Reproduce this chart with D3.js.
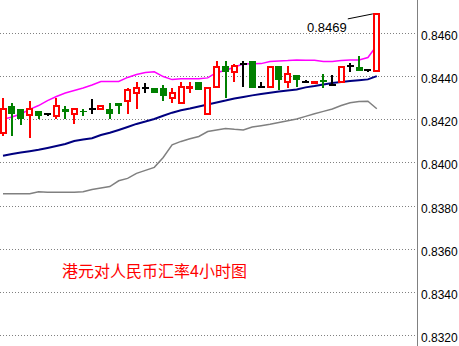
<!DOCTYPE html>
<html>
<head>
<meta charset="utf-8">
<script src="https://cdnjs.cloudflare.com/ajax/libs/d3/7.8.5/d3.min.js"></script>
<style>
  body { margin: 0; background: #fff; }
  svg { display: block; }
</style>
</head>
<body>
<div id="chart"></div>
<script>
// 4h candles, oldest first
const opens  = [0.84134,0.84259,0.84249,0.84217,0.84240,0.84222,0.84213,0.84249,0.84226,0.84240,
                0.84249,0.84245,0.84249,0.84273,0.84282,0.84323,0.84342,0.84342,0.84342,0.84296,
                0.84277,0.84342,0.84370,0.84226,0.84351,0.84448,0.84420,0.84457,0.84471,0.84347,
                0.84347,0.84448,0.84374,0.84402,0.84370,0.84365,0.84379,0.84360,0.84374,0.84444,
                0.84439,0.84429,0.84425];
const highs  = [0.84300,0.84273,0.84249,0.84282,0.84240,0.84222,0.84300,0.84259,0.84249,0.84249,
                0.84291,0.84259,0.84273,0.84273,0.84342,0.84370,0.84365,0.84342,0.84360,0.84342,
                0.84370,0.84370,0.84370,0.84342,0.84471,0.84471,0.84457,0.84471,0.84471,0.84370,
                0.84439,0.84448,0.84448,0.84402,0.84379,0.84374,0.84411,0.84402,0.84448,0.84462,
                0.84490,0.84429,0.84687];
const lows   = [0.84120,0.84120,0.84171,0.84111,0.84203,0.84213,0.84203,0.84203,0.84176,0.84213,
                0.84222,0.84245,0.84203,0.84222,0.84222,0.84249,0.84319,0.84319,0.84286,0.84273,
                0.84277,0.84319,0.84333,0.84222,0.84342,0.84296,0.84370,0.84351,0.84342,0.84342,
                0.84347,0.84333,0.84342,0.84351,0.84370,0.84365,0.84342,0.84360,0.84374,0.84420,
                0.84425,0.84420,0.84425];
const closes = [0.84249,0.84222,0.84203,0.84249,0.84213,0.84222,0.84259,0.84231,0.84249,0.84231,
                0.84249,0.84259,0.84222,0.84259,0.84333,0.84342,0.84342,0.84319,0.84305,0.84319,
                0.84351,0.84351,0.84333,0.84342,0.84439,0.84416,0.84448,0.84457,0.84342,0.84347,
                0.84439,0.84379,0.84411,0.84383,0.84370,0.84374,0.84370,0.84360,0.84439,0.84444,
                0.84425,0.84429,0.84687];
// indicator lines
const upperLine = [0.84199,0.84210,0.84224,0.84245,0.84263,0.84286,0.84305,0.84321,0.84333,0.84344,
                   0.84358,0.84374,0.84374,0.84374,0.84393,0.84407,0.84416,0.84419,0.84397,0.84383,
                   0.84387,0.84387,0.84387,0.84391,0.84416,0.84425,0.84441,0.84455,0.84456,0.84457,
                   0.84467,0.84469,0.84471,0.84474,0.84473,0.84473,0.84467,0.84467,0.84471,0.84474,
                   0.84474,0.84485,0.84541];
const maLine    = [0.84031,0.84039,0.84046,0.84052,0.84058,0.84067,0.84076,0.84085,0.84099,0.84106,
                   0.84112,0.84127,0.84137,0.84150,0.84164,0.84178,0.84189,0.84201,0.84216,0.84230,
                   0.84241,0.84249,0.84259,0.84268,0.84277,0.84286,0.84296,0.84303,0.84310,0.84316,
                   0.84322,0.84328,0.84333,0.84337,0.84347,0.84353,0.84360,0.84367,0.84372,0.84376,
                   0.84380,0.84384,0.84399];
const slowLine  = [0.83855,0.83855,0.83855,0.83855,0.83864,0.83862,0.83862,0.83862,0.83862,0.83864,
                   0.83875,0.83882,0.83888,0.83915,0.83926,0.83949,0.83963,0.83977,0.84023,0.84081,
                   0.84097,0.84109,0.84120,0.84143,0.84150,0.84157,0.84153,0.84150,0.84164,0.84170,
                   0.84176,0.84185,0.84193,0.84201,0.84213,0.84225,0.84236,0.84247,0.84263,0.84276,
                   0.84282,0.84283,0.84248];
const yTicks = [0.8320,0.8340,0.8360,0.8380,0.8400,0.8420,0.8440,0.8460];
const title = "港元对人民币汇率4小时图";

const width = 459, height = 346;
const axisX = 417;

const x = d3.scaleLinear().domain([0, opens.length - 1]).range([3, 376.8]);
const y = d3.scaleLinear().domain([0.8320, 0.8460]).range([335.3, 32.7]);

const svg = d3.select("#chart").append("svg")
    .attr("width", width)
    .attr("height", height);

// dotted grid
svg.append("g").selectAll("line")
    .data(yTicks)
  .enter().append("line")
    .attr("x1", 0).attr("x2", axisX)
    .attr("y1", d => Math.round(y(d)) + 0.5)
    .attr("y2", d => Math.round(y(d)) + 0.5)
    .attr("stroke", "#808080")
    .attr("stroke-dasharray", "1,2");

// right axis
svg.append("line")
    .attr("x1", axisX + 0.5).attr("x2", axisX + 0.5)
    .attr("y1", 0).attr("y2", height)
    .attr("stroke", "#808080");

svg.append("g").selectAll("text")
    .data(yTicks)
  .enter().append("text")
    .attr("x", axisX + 4)
    .attr("y", d => Math.round(y(d)) + 7)
    .style("font-family", "Liberation Sans, Arial, sans-serif")
    .style("font-size", "12px")
    .attr("fill", "#000")
    .text(d => d.toFixed(4));

// lines
const line = d3.line().x((d, i) => x(i)).y(d => y(d));
[[slowLine, "#808080", 1.5], [maLine, "#000080", 2], [upperLine, "#ff00ff", 1.5]].forEach(([data, color, w]) => {
  svg.append("path")
      .attr("d", line(data))
      .attr("fill", "none")
      .attr("stroke", color)
      .attr("stroke-width", w);
});

// candles
const candles = opens.map((o, i) => ({i, o, h: highs[i], l: lows[i], c: closes[i]}));
const color = d => d.c > d.o ? "#ff0000" : d.c < d.o ? "#008000" : "#000000";

const g = svg.append("g").attr("shape-rendering", "crispEdges");
g.selectAll("line.wick")
    .data(candles)
  .enter().append("line")
    .attr("class", "wick")
    .attr("x1", d => x(d.i)).attr("x2", d => x(d.i))
    .attr("y1", d => y(d.h)).attr("y2", d => y(d.l))
    .attr("stroke", color)
    .attr("stroke-width", 2);

g.selectAll("rect.body")
    .data(candles.filter(d => d.c !== d.o))
  .enter().append("rect")
    .attr("class", "body")
    .attr("x", d => d.c > d.o ? x(d.i) - 2.5 : x(d.i) - 3.5)
    .attr("width", d => d.c > d.o ? 5 : 7)
    .attr("y", d => y(Math.max(d.o, d.c)))
    .attr("height", d => Math.max(1, y(Math.min(d.o, d.c)) - y(Math.max(d.o, d.c))))
    .attr("fill", d => d.c > d.o ? "#fff" : "#008000")
    .attr("stroke", d => d.c > d.o ? "#ff0000" : "none")
    .attr("stroke-width", 2);

g.selectAll("line.doji")
    .data(candles.filter(d => d.c === d.o))
  .enter().append("line")
    .attr("class", "doji")
    .attr("x1", d => x(d.i) - 3.5).attr("x2", d => x(d.i) + 3.5)
    .attr("y1", d => y(d.o)).attr("y2", d => y(d.o))
    .attr("stroke", "#000")
    .attr("stroke-width", 2);

// high label on the last candle
const last = candles[candles.length - 1];
svg.append("line")
    .attr("x1", x(last.i) - 29).attr("y1", y(last.h) + 5)
    .attr("x2", x(last.i) - 4).attr("y2", y(last.h))
    .attr("stroke", "#000");
svg.append("text")
    .attr("x", x(last.i) - 30)
    .attr("y", y(last.h) + 18)
    .attr("text-anchor", "end")
    .style("font-family", "Liberation Sans, Arial, sans-serif")
    .style("font-size", "13px")
    .attr("fill", "#000")
    .text(last.h.toFixed(4));

svg.append("text")
    .attr("x", 62)
    .attr("y", 277)
    .style("font-family", "Noto Sans CJK SC")
    .style("font-size", "16px")
    .attr("fill", "#ff0000")
    .text(title);
</script>
</body>
</html>
